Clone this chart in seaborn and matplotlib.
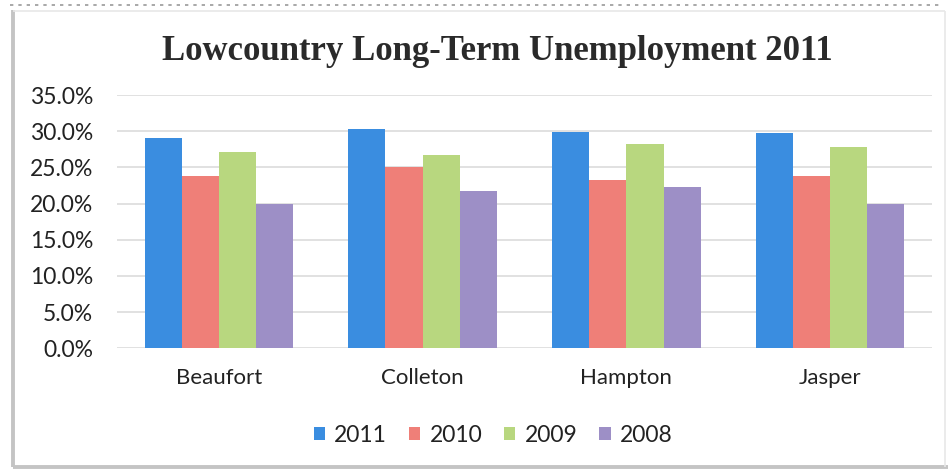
import matplotlib
matplotlib.use("Agg")
import matplotlib.pyplot as plt
from matplotlib.patches import Patch
from matplotlib.lines import Line2D
from matplotlib.ticker import PercentFormatter, MultipleLocator
import seaborn as sns
import pandas as pd

# Long-term unemployment share by county and year (percent)
counties = ["Beaufort", "Colleton", "Hampton", "Jasper"]
years = ["2011", "2010", "2009", "2008"]
rate_2011 = [29.0, 30.3, 29.9, 29.7]
rate_2010 = [23.8, 25.1, 23.2, 23.8]
rate_2009 = [27.1, 26.7, 28.2, 27.8]
rate_2008 = [19.9, 21.7, 22.3, 20.0]
colors = ["#3a8de0", "#ef7f78", "#b8d77f", "#9d8fc6"]

series = {"2011": rate_2011, "2010": rate_2010, "2009": rate_2009, "2008": rate_2008}
rows = []
for yr in years:
    for county, val in zip(counties, series[yr]):
        rows.append({"County": county, "Year": yr, "Rate": val})
df = pd.DataFrame(rows)

sns.set_theme(style="white")
plt.rcParams["font.family"] = ["Lato", "DejaVu Sans"]

fig = plt.figure(figsize=(9.48, 4.71), dpi=100)
ax = fig.add_axes([117 / 948, 1 - 348.3 / 471, (932 - 117) / 948, (348.3 - 95) / 471])

sns.barplot(data=df, x="County", y="Rate", hue="Year", hue_order=years,
            order=counties, palette=colors, width=0.73, saturation=1,
            linewidth=0, errorbar=None, ax=ax, legend=False)

ax.set_ylim(0, 35)
ax.yaxis.set_major_locator(MultipleLocator(5))
ax.yaxis.set_major_formatter(PercentFormatter(decimals=1))
ax.grid(axis="y", color="#dcdcdc", linewidth=1.2)
ax.set_axisbelow(True)
for s in ax.spines.values():
    s.set_visible(False)
ax.set_xlabel("")
ax.set_ylabel("")
ax.tick_params(axis="y", labelsize=16.5, colors="#222222", pad=17, length=0)
ax.tick_params(axis="x", labelsize=16, colors="#222222", pad=14, length=0)

fig.text(497 / 948, 1 - 52 / 471, "Lowcountry Long-Term Unemployment 2011",
         ha="center", va="center", fontsize=25, fontweight="bold",
         family="Liberation Serif", color="#2a2a2a")

handles = [Patch(facecolor=c, edgecolor="none") for c in colors]
fig.legend(handles, years, loc="center", bbox_to_anchor=(493 / 948, 1 - 435 / 471),
           ncol=4, frameon=False, fontsize=16.5, handlelength=0.5, handleheight=0.5,
           handletextpad=0.4, columnspacing=0.95, labelcolor="#222222")

# chart frame: firm left and bottom edges, faint top and right edges
def frame_line(x0, y0, x1, y1, color, lw, style="-"):
    fig.lines.append(Line2D([x0 / 948, x1 / 948], [1 - y0 / 471, 1 - y1 / 471],
                            transform=fig.transFigure, color=color,
                            linewidth=lw, linestyle=style, solid_capstyle="butt"))

frame_line(13, 10, 13, 467, "#c4c4c4", 2.8)
frame_line(13, 467, 948, 467, "#c4c4c4", 2.8)
frame_line(13, 11, 945, 11, "#e8e8e8", 1.2)
frame_line(945, 11, 945, 467, "#e8e8e8", 1.2)
frame_line(10, 5, 940, 5, "#9a9a9a", 1.2, (0, (2, 3)))

fig.savefig("out.png", dpi=100)
